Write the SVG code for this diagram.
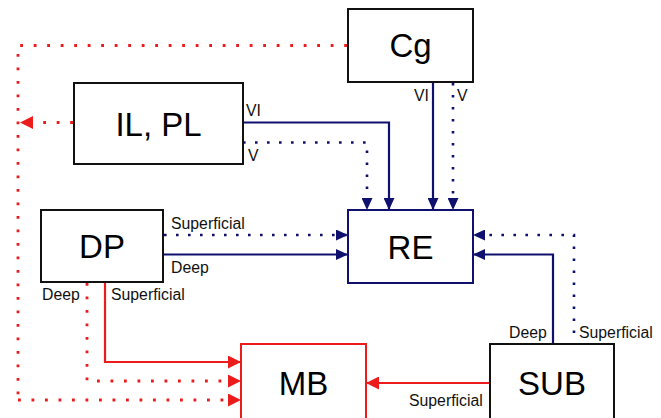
<svg xmlns="http://www.w3.org/2000/svg" width="661" height="418" viewBox="0 0 661 418">
<style>
.box{fill:#fff;stroke:#111;stroke-width:2}
.big{font-family:"Liberation Sans",Arial,sans-serif;font-size:33px;text-anchor:middle;fill:#000}
.lbl{font-family:"Liberation Sans",Arial,sans-serif;font-size:15.8px;fill:#111}
.ns{fill:none;stroke:#10106e;stroke-width:2.2}
.nd{fill:none;stroke:#10106e;stroke-width:2.6;stroke-dasharray:2.6 9.4}
.rs{fill:none;stroke:#ec1c1c;stroke-width:2.2}
.rd{fill:none;stroke:#ec1c1c;stroke-width:2.8;stroke-dasharray:2.8 10.7}
.na{marker-end:url(#an)}
.ra{marker-end:url(#ar)}
</style>
<defs>
<marker id="an" markerUnits="userSpaceOnUse" markerWidth="12" markerHeight="11" refX="12" refY="5.5" orient="auto"><path d="M0,0 L12,5.5 L0,11 Z" fill="#10106e"/></marker>
<marker id="ar" markerUnits="userSpaceOnUse" markerWidth="13" markerHeight="13" refX="13" refY="6.5" orient="auto"><path d="M0,0 L13,6.5 L0,13 Z" fill="#ec1c1c"/></marker>
</defs>
<rect width="661" height="418" fill="#fff"/>
<g id="connectors">
<path class="ns na" d="M243,122.5 H389 V210"/>
<path class="nd na" d="M243,142.5 H367 V210"/>
<path class="ns na" d="M433,82 V210"/>
<path class="nd na" d="M453,83 V210"/>
<path class="nd na" d="M164,235 H348"/>
<path class="ns na" d="M163,254.5 H348"/>
<path class="ns na" d="M553,344 V254.5 H473"/>
<path class="nd na" d="M574,333 V235 H473"/>
<path class="rd" d="M347,45.5 H18 V400"/>
<path class="rd ra" d="M18,400 H241"/>
<path class="rd ra" d="M73,122.5 H20"/>
<path class="rs ra" d="M105,282 V362 H241"/>
<path class="rd ra" d="M87,283 V381 H241"/>
<path class="rs ra" d="M490,383 H366"/>
<text class="lbl" x="246" y="116">VI</text>
<text class="lbl" x="248" y="161">V</text>
<text class="lbl" x="429" y="101" text-anchor="end">VI</text>
<text class="lbl" x="457" y="101">V</text>
<text class="lbl" x="171" y="229">Superficial</text>
<text class="lbl" x="171" y="273">Deep</text>
<text class="lbl" x="42" y="300">Deep</text>
<text class="lbl" x="111" y="300">Superficial</text>
<text class="lbl" x="509" y="337.5">Deep</text>
<text class="lbl" x="579" y="337.5">Superficial</text>
<text class="lbl" x="409" y="406">Superficial</text>
</g>
<g id="Cg"><rect class="box" x="348" y="9" width="125" height="73"/><text class="big" x="410.5" y="57">Cg</text></g>
<g id="ILPL"><rect class="box" x="74" y="83" width="169" height="81"/><text class="big" x="158.5" y="135.5">IL, PL</text></g>
<g id="DP"><rect class="box" x="41" y="210" width="122" height="72"/><text class="big" x="102" y="258">DP</text></g>
<g id="RE"><rect class="box" x="348" y="210" width="125" height="73" style="stroke:#10106e"/><text class="big" x="410.5" y="258.5">RE</text></g>
<g id="MB"><rect class="box" x="241" y="344" width="125" height="80" style="stroke:#ec1c1c"/><text class="big" x="303.5" y="395">MB</text></g>
<g id="SUB"><rect class="box" x="490" y="344" width="124" height="80"/><text class="big" x="552" y="395">SUB</text></g>
</svg>
